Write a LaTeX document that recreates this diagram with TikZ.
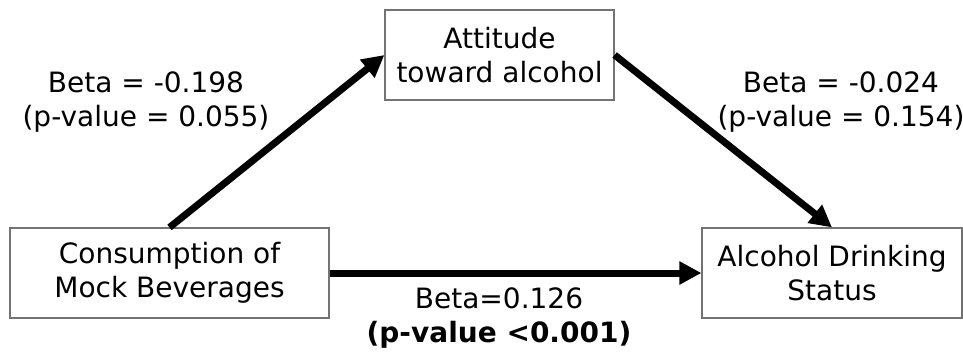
\documentclass[tikz,border=0pt]{standalone}
\usepackage{fontspec}
\setmainfont{DejaVu Sans}
\usetikzlibrary{arrows.meta}

\tikzset{
  varbox/.style={draw=black!55,line width=1.2pt,minimum height=90pt,
    align=center,inner sep=0pt,font=\fontsize{28}{34}\selectfont},
  coef/.style={align=center,font=\fontsize{28}{34}\selectfont},
  path/.style={line width=7pt,-{Triangle[length=22pt,width=22pt]}},
}

\begin{document}
\begin{tikzpicture}[x=1pt,y=-1pt]
\useasboundingbox (0,0) rectangle (963,354);

\node[varbox,minimum width=319pt] (cons) at (169.5,273) {Consumption of\\Mock Beverages};
\node[varbox,minimum width=229pt] (att) at (499.5,55) {Attitude\\toward alcohol};
\node[varbox,minimum width=260pt] (drink) at (832,273) {Alcohol Drinking\\Status};

\draw[path] (cons.north) -- (att.west);
\draw[path] (att.east) -- (drink.north);
\draw[path] (cons.east) -- (drink.west);

\node[coef] (ca) at (146,102) {Beta = -0.198\\(p-value = 0.055)};
\node[coef] (ad) at (841,102) {Beta = -0.024\\(p-value = 0.154)};
\node[coef] (cd) at (499,318) {Beta=0.126\\\textbf{(p-value <0.001)}};
\end{tikzpicture}
\end{document}
